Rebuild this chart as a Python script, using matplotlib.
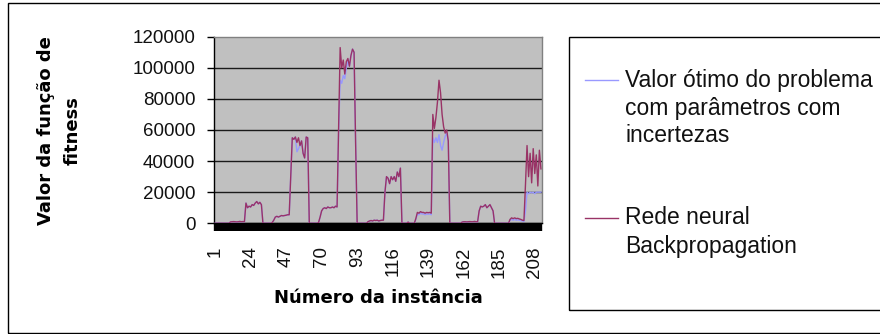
import numpy as np
import matplotlib
matplotlib.use("Agg")
import matplotlib.pyplot as plt
from matplotlib.lines import Line2D
from matplotlib.patches import Rectangle

plt.rcParams['font.family'] = ['Liberation Sans', 'DejaVu Sans']

# ---------------- data ----------------
series_names = ["Valor ótimo do problema\ncom parâmetros com\nincertezas",
                "Rede neural\nBackpropagation"]
series_colors = ["#9999FF", "#993366"]

# Valor ótimo do problema com parâmetros com incertezas (212 instances)
optimal = [
    0, 0, 0, 0, 0, 0, 0, 0, 0, 0,
    900, 1000, 1100, 1000, 900, 1000, 1200, 1000, 1100, 1000,
    13000, 10000, 11000, 10500, 12000, 11500, 13000, 14000, 12500, 13500, 12000,
    0, 0, 0, 0, 0, 0,
    500, 2000, 4000, 4500, 4000, 4500, 5000, 4800, 5000, 5200, 5500, 5500,
    30000, 55000, 54000, 55500, 46000, 48000, 50000, 53000, 45000, 42000, 55500, 55000,
    0, 0, 0, 0, 0, 0,
    500, 4000, 8000, 9500, 10000, 9500, 10500, 10000, 10000, 10500, 10000, 11000, 10500,
    59000, 92000, 90000, 95000, 93000, 100000, 104000, 101000, 108000, 112000, 110000, 52000,
    0, 0, 0, 0, 0, 0, 0,
    1000, 1500, 1800, 1500, 2000, 1800, 2000, 1500, 1800, 2000, 2000,
    20000, 30000, 29000, 25500, 30000, 28000, 30000, 27000, 33000, 30000, 35500,
    0, 0, 0, 0, 800, 0, 0, 0, 0,
    2500, 6000, 5500, 6500, 6000, 6000, 5500, 6000, 5800, 6000, 5500,
    55000, 52000, 55000, 52000, 57000, 50000, 47000, 52000, 56000, 58000, 53000,
    0, 0, 0, 0, 0, 0, 0, 0,
    800, 1000, 1000, 900, 1000, 1100, 1000, 1000, 1200, 1000, 1000,
    8000, 11000, 10500, 11000, 12000, 10000, 11000, 12000, 10000, 8000,
    0, 0, 0, 0, 0, 0, 0, 0, 0, 0,
    2000, 2500, 2000, 2500, 2000, 2200, 2000, 1800, 1500, 1200,
    8000, 20000, 19000, 20000, 19500, 20000, 19000, 20000, 20000, 20000, 20000,
]

# Rede neural Backpropagation (212 instances)
neural = [
    0, 0, 0, 0, 0, 0, 0, 0, 0, 0,
    900, 1000, 1100, 1000, 900, 1000, 1200, 1000, 1100, 1000,
    13000, 10000, 11000, 10500, 12000, 11500, 13000, 14000, 12500, 13500, 12000,
    0, 0, 0, 0, 0, 0,
    500, 2000, 4000, 4500, 4000, 4500, 5000, 4800, 5000, 5200, 5500, 5500,
    30000, 55000, 54000, 55500, 52000, 55000, 50000, 53000, 45000, 42000, 55500, 55000,
    0, 0, 0, 0, 0, 0,
    500, 4000, 8000, 9500, 10000, 9500, 10500, 10000, 10000, 10500, 10000, 11000, 10500,
    60000, 113000, 100000, 105000, 96000, 104000, 106000, 101000, 108000, 112000, 110000, 52000,
    0, 0, 0, 0, 0, 0, 0,
    1000, 1500, 1800, 1500, 2000, 1800, 2000, 1500, 1800, 2000, 2000,
    20000, 30000, 29000, 25500, 30000, 28000, 30000, 27000, 33000, 30000, 35500,
    0, 0, 0, 0, 800, 0, 0, 0, 0,
    3000, 7000, 6500, 7500, 7000, 7000, 6500, 7000, 6800, 7000, 6500,
    70000, 61000, 68000, 78000, 92000, 84000, 70000, 62000, 58000, 60000, 53000,
    0, 0, 0, 0, 0, 0, 0, 0,
    800, 1000, 1000, 900, 1000, 1100, 1000, 1000, 1200, 1000, 1000,
    8000, 11000, 10500, 11000, 12000, 10000, 11000, 12000, 10000, 8000,
    0, 0, 0, 0, 0, 0, 0, 0, 0, 0,
    2500, 3500, 3000, 3500, 3000, 3200, 2800, 2500, 2000, 1800,
    25000, 50000, 30000, 45000, 26000, 48000, 32000, 44000, 24000, 47000, 35000,
]

instances = list(range(1, len(neural) + 1))
x_tick_labels = ["1", "24", "47", "70", "93", "116", "139", "162", "185", "208"]
y_ticks = [0, 20000, 40000, 60000, 80000, 100000, 120000]

x_label = "Número da instância"
y_label = "Valor da função de\nfitness"

# ---------------- figure ----------------
W, H = 880, 334
fig = plt.figure(figsize=(W / 100, H / 100), dpi=100)
fig.patch.set_facecolor("white")


def fx(px):
    return px / W


def fy(py):
    return 1 - py / H


# outer chart frame
fig.add_artist(Rectangle((fx(8), fy(332.5)), fx(900) - fx(8), fy(3) - fy(332.5),
                         transform=fig.transFigure, fill=False, edgecolor="black",
                         linewidth=1.0, clip_on=False))

left, right, top, bottom = 214.3, 541.7, 36.7, 223.3
ax = fig.add_axes([fx(left), fy(bottom), fx(right) - fx(left), fy(top) - fy(bottom)])
ax.set_facecolor("#C0C0C0")

lines = []
for vals, name, col in zip([optimal, neural], series_names, series_colors):
    ln, = ax.plot(instances, vals, color=col, linewidth=1.0, label=name, zorder=3)
    lines.append(ln)

ax.set_xlim(0.5, len(instances) + 0.5)
ax.set_ylim(0, 120000)

ax.set_yticks(y_ticks)
ax.set_yticklabels([str(v) for v in y_ticks])
ax.yaxis.grid(True, color="#1a1a1a", linewidth=1.0, zorder=1)
ax.yaxis.get_gridlines()[-1].set_visible(False)

ax.set_xticks([int(s) for s in x_tick_labels])
ax.set_xticklabels(x_tick_labels, rotation=90)
ax.set_xticks(instances, minor=True)

ax.xaxis.set_tick_params(which="minor", bottom=True, direction="out",
                         length=6.0, width=1.7, color="black")
ax.xaxis.set_tick_params(which="major", bottom=True, direction="out",
                         length=6.0, width=1.7, color="black",
                         pad=10.5, labelsize=13.5, labelcolor="#111111")
ax.yaxis.set_tick_params(which="major", left=True, direction="out", length=5,
                         width=1, color="black", pad=8.6, labelsize=13.5,
                         labelcolor="#111111")

ax.spines["left"].set_color("black")
ax.spines["bottom"].set_color("black")
ax.spines["top"].set_color("#808080")
ax.spines["right"].set_color("#808080")
for s in ax.spines.values():
    s.set_linewidth(1.0)

# axis titles
fig.text(fx(59), fy(131), y_label, rotation=90, ha="center", va="center",
         multialignment="center", fontsize=13, fontweight="bold",
         family="DejaVu Sans", linespacing=1.6)
fig.text(fx(378), fy(298), x_label, ha="center", va="center",
         fontsize=13, fontweight="bold", family="DejaVu Sans")

# legend box
fig.add_artist(Rectangle((fx(569), fy(310)), fx(900) - fx(569), fy(37) - fy(310),
                         transform=fig.transFigure, fill=False, edgecolor="black",
                         linewidth=1.0, clip_on=False))
entry_y = [80, 218]
line_step = 28
for ln, name, ey in zip(lines, series_names, entry_y):
    fig.add_artist(Line2D([fx(585), fx(618)], [fy(ey), fy(ey)],
                          transform=fig.transFigure, color=ln.get_color(),
                          linewidth=1.0))
    for k, part in enumerate(name.split("\n")):
        fig.text(fx(625), fy(ey + k * line_step), part, ha="left", va="center",
                 fontsize=16.5, color="#111111")

fig.savefig("out.png", dpi=100)
